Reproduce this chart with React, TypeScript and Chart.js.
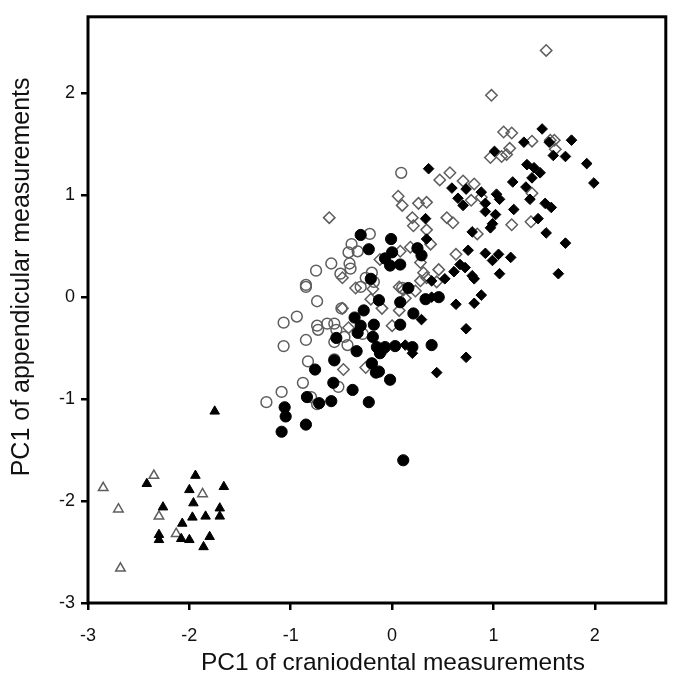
import { useEffect, useRef } from "react";
import { Chart, registerables } from "chart.js";
Chart.register(...registerables);

const xTickValues = [-3, -2, -1, 0, 1, 2];
const yTickValues = [-3, -2, -1, 0, 1, 2];
const xTitle = "PC1 of craniodental measurements";
const yTitle = "PC1 of appendicular measurements";

const openTriangles: [number, number][] = [
  [-2.85, -1.87], [-2.70, -2.08], [-2.68, -2.66], [-2.35, -1.75], [-2.30, -2.15], [-1.87, -1.93], [-2.13, -2.32],
];

const filledTriangles: [number, number][] = [
  [-1.75, -1.12], [-2.42, -1.83], [-1.94, -1.75], [-2.00, -1.89], [-1.66, -1.86], [-2.26, -2.06], [-1.96, -2.02],
  [-1.70, -2.07], [-1.97, -2.16], [-1.84, -2.15], [-1.70, -2.15], [-2.07, -2.22], [-2.30, -2.33], [-2.30, -2.38],
  [-2.08, -2.37], [-2.00, -2.38], [-1.80, -2.35], [-1.86, -2.45],
];

const openCircles: [number, number][] = [
  [0.09, 1.22], [-0.22, 0.62], [-0.40, 0.52], [-0.34, 0.45], [-0.43, 0.44], [-0.42, 0.33], [-0.41, 0.28],
  [-0.60, 0.33], [-0.75, 0.26], [-0.51, 0.23], [-0.20, 0.24], [-0.26, 0.19], [-0.85, 0.12], [-0.85, 0.10],
  [-0.31, 0.10], [-0.18, 0.15], [-0.74, -0.04], [-0.50, -0.11], [0.10, 0.09], [-0.94, -0.19], [-1.07, -0.25],
  [-0.74, -0.28], [-0.64, -0.26], [-0.57, -0.26], [-0.55, -0.32], [-0.73, -0.32], [-0.85, -0.42], [-1.07, -0.48],
  [-0.57, -0.44], [-0.44, -0.47], [-0.47, -0.39], [-0.83, -0.63], [-0.57, -0.61], [-0.88, -0.84], [-0.53, -0.88],
  [-1.09, -0.93], [-1.24, -1.03], [-0.80, -0.98], [-0.74, -1.05], [-0.10, -0.52], [-0.29, -0.36], [-0.20, -0.65],
];

const filledCircles: [number, number][] = [
  [-0.31, 0.61], [-0.01, 0.57], [-0.23, 0.47], [0.00, 0.44], [-0.07, 0.38], [-0.02, 0.31], [0.08, 0.32],
  [-0.21, 0.18], [0.29, 0.41], [0.25, 0.48], [0.16, 0.09], [-0.13, -0.03], [0.08, -0.05], [0.21, -0.16],
  [0.33, -0.02], [0.46, 0.00], [-0.28, -0.13], [-0.37, -0.20], [-0.31, -0.28], [-0.18, -0.27], [0.08, -0.27],
  [-0.34, -0.35], [-0.19, -0.39], [-0.55, -0.40], [-0.15, -0.49], [-0.07, -0.49], [0.03, -0.48], [0.20, -0.49],
  [0.39, -0.47], [-0.35, -0.53], [-0.12, -0.55], [-0.20, -0.65], [-0.13, -0.73], [-0.02, -0.81], [-0.57, -0.62],
  [-0.76, -0.71], [-0.58, -0.84], [-0.39, -0.91], [-0.23, -1.03], [-0.84, -0.98], [-0.72, -1.04], [-0.60, -1.02],
  [-1.06, -1.08], [-1.05, -1.17], [-0.85, -1.25], [-1.09, -1.32], [0.11, -1.60], [-0.16, -0.74],
];

const openDiamonds: [number, number][] = [
  [1.52, 2.42], [0.98, 1.98], [1.10, 1.62], [1.18, 1.61], [1.38, 1.53], [1.56, 1.54], [1.60, 1.54], [1.61, 1.45],
  [1.16, 1.46], [1.13, 1.40], [1.08, 1.38], [0.97, 1.37], [0.57, 1.22], [0.47, 1.15], [0.70, 1.14], [0.81, 1.11],
  [0.06, 0.99], [0.10, 0.90], [0.26, 0.92], [0.34, 0.93], [0.78, 0.95], [0.88, 0.98], [1.38, 1.02], [0.20, 0.78],
  [0.21, 0.70], [0.34, 0.66], [0.54, 0.78], [0.60, 0.73], [1.18, 0.71], [1.37, 0.74], [0.84, 0.62], [0.38, 0.52],
  [0.18, 0.49], [0.08, 0.45], [0.63, 0.42], [0.28, 0.34], [0.46, 0.27], [0.31, 0.24], [0.34, 0.19], [0.28, 0.16],
  [0.44, 0.15], [0.07, 0.10], [0.11, 0.07], [0.23, 0.06], [0.13, -0.01], [0.07, -0.13], [-0.10, -0.11], [0.00, -0.28],
  [-0.62, 0.78], [-0.12, 0.37], [-0.19, 0.08], [-0.36, 0.09], [-0.49, 0.19], [-0.21, -0.02], [-0.49, -0.11],
  [-0.43, -0.30], [-0.48, -0.71], [-0.26, -0.69],
];

const filledDiamonds: [number, number][] = [
  [1.48, 1.65], [1.30, 1.52], [1.01, 1.43], [1.55, 1.52], [1.77, 1.54], [1.59, 1.39], [1.71, 1.38], [1.92, 1.31],
  [1.99, 1.12], [0.36, 1.26], [1.33, 1.30], [1.40, 1.27], [1.46, 1.22], [1.38, 1.17], [1.19, 1.13], [1.32, 1.08],
  [1.36, 0.96], [0.59, 1.07], [0.73, 1.06], [0.88, 1.03], [1.03, 1.01], [1.06, 0.96], [0.65, 0.97], [0.70, 0.90],
  [0.92, 0.92], [0.92, 0.84], [1.02, 0.81], [0.99, 0.72], [0.97, 0.68], [1.20, 0.86], [1.51, 0.92], [1.57, 0.88],
  [1.44, 0.77], [1.52, 0.63], [1.71, 0.53], [0.79, 0.64], [0.33, 0.77], [0.34, 0.57], [0.75, 0.46], [0.92, 0.43],
  [1.05, 0.42], [1.17, 0.39], [0.99, 0.36], [1.64, 0.23], [1.06, 0.23], [0.67, 0.32], [0.72, 0.29], [0.61, 0.25],
  [0.52, 0.18], [0.79, 0.21], [0.81, 0.18], [0.39, 0.16], [0.88, 0.02], [0.81, -0.06], [0.63, -0.07], [0.73, -0.31],
  [0.39, 0.00], [0.29, -0.22], [0.13, -0.47], [0.20, -0.55], [0.73, -0.59], [0.44, -0.74],
];

const FONT = "'Liberation Sans', Arial, sans-serif";

export default function App() {
  const ref = useRef<HTMLCanvasElement>(null);
  useEffect(() => {
    const framePlugin = {
      id: "frame",
      afterDraw(chart: any) {
        const { ctx, chartArea } = chart;
        const { left, top, right, bottom } = chartArea;
        ctx.save();
        ctx.strokeStyle = "#000";
        ctx.lineWidth = 3;
        ctx.strokeRect(left, top, right - left, bottom - top);
        // axis titles
        ctx.fillStyle = "#111";
        ctx.font = `24.5px ${FONT}`;
        ctx.textAlign = "center";
        ctx.textBaseline = "middle";
        ctx.fillText(xTitle, (left + right) / 2 + 16, bottom + 60);
        ctx.translate(left - 66, (top + bottom) / 2 - 33);
        ctx.rotate(-Math.PI / 2);
        ctx.font = `25px ${FONT}`;
        ctx.fillText(yTitle, 0, 0);
        ctx.restore();
      },
    };
    const pts = (a: [number, number][]) => a.map(([x, y]) => ({ x, y }));
    const open = (data: [number, number][], style: string, r: number) => ({
      data: pts(data),
      pointStyle: style,
      pointRadius: r,
      pointBackgroundColor: "rgba(255,255,255,0)",
      pointBorderColor: "#5e5e5e",
      pointBorderWidth: 1.5,
      showLine: false,
    });
    const filled = (data: [number, number][], style: string, r: number) => ({
      data: pts(data),
      pointStyle: style,
      pointRadius: r,
      pointBackgroundColor: "#000",
      pointBorderColor: "#000",
      pointBorderWidth: 1,
      showLine: false,
    });
    const chart = new Chart(ref.current as HTMLCanvasElement, {
      type: "scatter",
      data: {
        datasets: [
          filled(filledTriangles, "triangle", 5.5),
          open(openTriangles, "triangle", 5.5),
          filled(filledCircles, "circle", 5.6),
          open(openCircles, "circle", 5.4),
          filled(filledDiamonds, "rectRot", 5.3),
          open(openDiamonds, "rectRot", 5.7),
        ] as any,
      },
      options: {
        animation: false,
        responsive: false,
        layout: { padding: { left: 0, right: 3, top: 12, bottom: 0 } },
        plugins: { legend: { display: false }, tooltip: { enabled: false } },
        scales: {
          x: {
            type: "linear",
            min: -3,
            max: 2.7,
            position: "bottom",
            afterBuildTicks: (s: any) => {
              s.ticks = xTickValues.map((v) => ({ value: v }));
            },
            afterFit: (s: any) => {
              s.height = 79;
            },
            grid: { display: true, drawOnChartArea: false, drawTicks: true, tickLength: 7, color: "#000", lineWidth: 2.5 },
            border: { display: false },
            ticks: { font: { family: FONT, size: 18 }, color: "#111", padding: 15, maxRotation: 0 },
          },
          y: {
            type: "linear",
            min: -3,
            max: 2.75,
            afterBuildTicks: (s: any) => {
              s.ticks = yTickValues.map((v) => ({ value: v }));
            },
            afterFit: (s: any) => {
              s.width = 88;
            },
            grid: { display: true, drawOnChartArea: false, drawTicks: true, tickLength: 7, color: "#000", lineWidth: 2.5 },
            border: { display: false },
            ticks: { font: { family: FONT, size: 18 }, color: "#111", padding: 6 },
          },
        },
      } as any,
      plugins: [framePlugin],
    });
    return () => chart.destroy();
  }, []);
  return (
    <div style={{ position: "fixed", left: 0, top: 0, width: 673, height: 682, background: "#fff" }}>
      <canvas ref={ref} width={673} height={682} />
    </div>
  );
}
